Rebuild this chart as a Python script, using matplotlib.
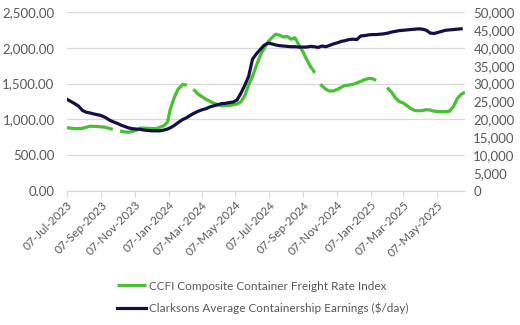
import numpy as np
import pandas as pd
import matplotlib
matplotlib.use("Agg")
import matplotlib.pyplot as plt
import matplotlib.dates as mdates
from matplotlib.ticker import FuncFormatter, MultipleLocator

plt.rcParams["font.family"] = ["Lato", "DejaVu Sans"]

nan = np.nan

# CCFI composite index (left axis), gaps where the index was not published
ccfi_dates = [
    "2023-07-07", "2023-07-21", "2023-08-04", "2023-08-18", "2023-09-01", "2023-09-15",
    "2023-09-28", "2023-10-04", "2023-10-11", "2023-10-20", "2023-10-27", "2023-11-10",
    "2023-11-17", "2023-12-01", "2023-12-15", "2023-12-29", "2024-01-05", "2024-01-10",
    "2024-01-17", "2024-01-24", "2024-02-02", "2024-02-09", "2024-02-15", "2024-02-21",
    "2024-03-01", "2024-03-15", "2024-03-29", "2024-04-12", "2024-04-26", "2024-05-10",
    "2024-05-17", "2024-05-24", "2024-05-31", "2024-06-07", "2024-06-14", "2024-06-21",
    "2024-06-28", "2024-07-05", "2024-07-12", "2024-07-19", "2024-07-26", "2024-08-02",
    "2024-08-09", "2024-08-16", "2024-08-23", "2024-08-30", "2024-09-06", "2024-09-13",
    "2024-09-20", "2024-09-28", "2024-10-03", "2024-10-08", "2024-10-18", "2024-10-25",
    "2024-11-01", "2024-11-08", "2024-11-15", "2024-11-22", "2024-11-29", "2024-12-06",
    "2024-12-13", "2024-12-20", "2024-12-27", "2025-01-03", "2025-01-10", "2025-01-17",
    "2025-01-25", "2025-02-06", "2025-02-14", "2025-02-21", "2025-02-28", "2025-03-07",
    "2025-03-14", "2025-03-21", "2025-03-28", "2025-04-04", "2025-04-11", "2025-04-18",
    "2025-04-25", "2025-05-02", "2025-05-09", "2025-05-16", "2025-05-23", "2025-05-30",
    "2025-06-06", "2025-06-13", "2025-06-20", "2025-06-27",
]
ccfi_values = [
    885, 870, 875, 905, 900, 890,
    860, nan, 837, 825, 820, 850,
    880, 875, 870, 910, 960, 1140,
    1300, 1420, 1490, 1475, nan, 1420,
    1350, 1280, 1225, 1190, 1195, 1215,
    1245, 1330, 1480, 1600, 1750, 1890,
    1990, 2080, 2140, 2190, 2175, 2150,
    2160, 2120, 2140, 2040, 1950, 1840,
    1740, 1650, nan, 1490, 1420, 1395,
    1400, 1420, 1450, 1475, 1480, 1490,
    1510, 1530, 1555, 1570, 1570, 1545,
    nan, 1445, 1380, 1300, 1250, 1230,
    1190, 1150, 1125, 1120, 1125, 1135,
    1130, 1115, 1110, 1110, 1110, 1115,
    1180, 1290, 1350, 1380,
]

# Clarksons average containership earnings (right axis, $/day)
earn_dates = pd.date_range("2023-07-07", "2025-06-27", freq="7D")
earn_values = [
    25600, 25000, 24400, 23700, 22500, 22000, 21800, 21500, 21300, 21000,
    20500, 19800, 19300, 18900, 18400, 18000, 17600, 17400, 17300, 17200,
    17000, 16900, 16800, 16800, 16800, 17000, 17300, 17800, 18500, 19300,
    20000, 20500, 21200, 21800, 22300, 22700, 23000, 23500, 23800, 24100,
    24400, 24500, 24700, 24850, 25400, 27300, 29500, 32000, 36800, 38300,
    39500, 40700, 41300, 41100, 40800, 40600, 40500, 40400, 40300, 40300,
    40200, 40200, 40200, 40400, 40300, 40100, 40500, 40300, 40700, 41100,
    41400, 41800, 42000, 42300, 42400, 42300, 43300, 43400, 43600, 43700,
    43700, 43800, 43900, 44100, 44400, 44600, 44800, 44900, 45000, 45100,
    45200, 45300, 45200, 44900, 44100, 44000, 44300, 44600, 44900, 45000,
    45100, 45200, 45300,
]

tick_dates = pd.date_range("2023-07-07", "2025-05-07", freq=pd.DateOffset(months=2))

green = "#44c22f"
navy = "#131048"
grey_text = "#595959"
grid_col = "#d9d9d9"

fig = plt.figure(figsize=(5.2, 3.25), dpi=100)
ax = fig.add_axes([67 / 520, 1 - 191 / 325, (465 - 67) / 520, (191 - 12) / 325])
ax2 = ax.twinx()

l1, = ax.plot(pd.to_datetime(ccfi_dates), ccfi_values, color=green, lw=2.3,
              solid_capstyle="butt", label="CCFI Composite Container Freight Rate Index")
l2, = ax2.plot(earn_dates[:len(earn_values)], earn_values, color=navy, lw=2.3,
               label="Clarksons Average Containership Earnings ($/day)")

ax.set_ylim(0, 2500)
ax.yaxis.set_major_locator(MultipleLocator(500))
ax.yaxis.set_major_formatter(FuncFormatter(lambda v, p: f"{v:,.2f}"))
ax2.set_ylim(0, 50000)
ax2.yaxis.set_major_locator(MultipleLocator(5000))
ax2.yaxis.set_major_formatter(FuncFormatter(lambda v, p: f"{v:,.0f}"))

ax.set_xlim(pd.Timestamp("2023-07-07"), pd.Timestamp("2025-06-27"))
ax.set_xticks(tick_dates)
ax.xaxis.set_major_formatter(mdates.DateFormatter("%d-%b-%Y"))

ax.grid(axis="y", color=grid_col, lw=0.9)
ax.set_axisbelow(True)
for a in (ax, ax2):
    for s in ("top", "left", "right"):
        a.spines[s].set_visible(False)
    a.spines["bottom"].set_color(grid_col)
ax2.spines["bottom"].set_visible(False)

ax.tick_params(axis="y", length=0, pad=9, labelsize=9.5, labelcolor=grey_text)
ax2.tick_params(axis="y", length=0, pad=6, labelsize=9.5, labelcolor=grey_text)
ax.tick_params(axis="x", length=4, color=grid_col, pad=2, labelsize=8.5, labelcolor=grey_text)
for lab in ax.get_xticklabels():
    lab.set_rotation(45)
    lab.set_ha("right")
    lab.set_rotation_mode("anchor")

fig.legend(handles=[l1, l2], loc="upper center", bbox_to_anchor=(0.505, 0.155),
           ncol=1, frameon=False, fontsize=8.5, labelcolor=grey_text,
           handlelength=2.5, handletextpad=0.2, labelspacing=0.9, borderpad=0)

fig.savefig("out.png", dpi=100)
